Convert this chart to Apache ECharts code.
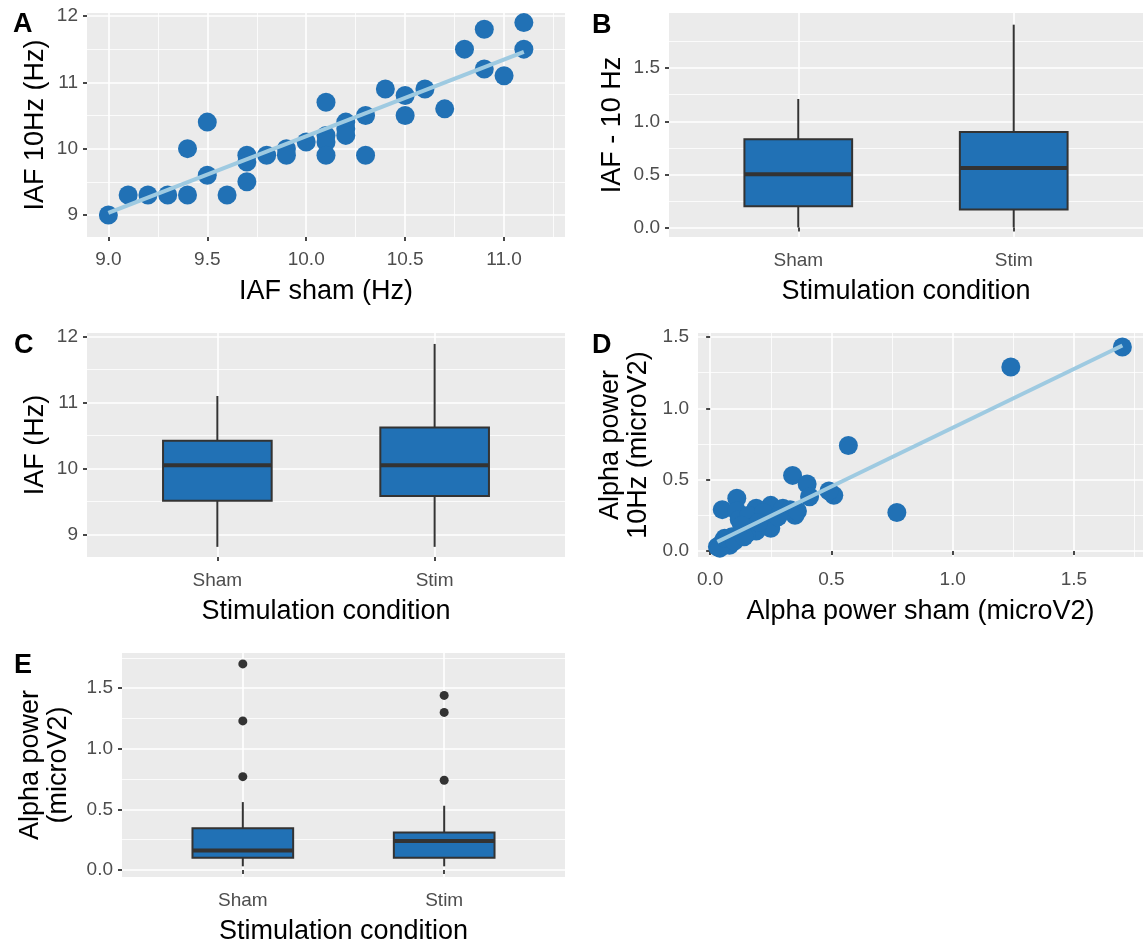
<!DOCTYPE html>
<html>
<head>
<meta charset="utf-8">
<title>IAF and alpha power, sham vs stim</title>
<script src="https://cdn.jsdelivr.net/npm/echarts@6.0.0/dist/echarts.min.js"></script>
<style>
  html, body { margin: 0; padding: 0; background: #fff; }
  #chart { width: 1143px; height: 943px; }
</style>
</head>
<body>
<div id="chart"></div>
<script>
// ---- values ----
var conditions = ['Sham', 'Stim'];

// A: IAF sham vs IAF under 10 Hz stimulation, one point per subject
var iafSham = [9.0, 9.1, 9.2, 9.3, 9.4, 9.4, 9.5, 9.5, 9.6, 9.7, 9.7, 9.7, 9.8, 9.9, 9.9, 10.0,
  10.1, 10.1, 10.1, 10.1, 10.2, 10.2, 10.2, 10.3, 10.3, 10.4, 10.5, 10.5, 10.6, 10.7, 10.8,
  10.9, 10.9, 11.0, 11.1, 11.1];
var iaf10Hz = [9.0, 9.3, 9.3, 9.3, 9.3, 10.0, 10.4, 9.6, 9.3, 9.9, 9.8, 9.5, 9.9, 10.0, 9.9, 10.1,
  10.7, 10.2, 10.1, 9.9, 10.4, 10.3, 10.2, 10.5, 9.9, 10.9, 10.8, 10.5, 10.9, 10.6, 11.5,
  11.8, 11.2, 11.1, 11.9, 11.5];
var iafFitX = [9.0, 11.1];
var iafFitY = [9.03, 11.46];

// B: IAF - 10 Hz, box stats [lower whisker, q1, median, q3, upper whisker]
var diffSham = [0.0, 0.2, 0.5, 0.83, 1.21];
var diffStim = [0.0, 0.17, 0.56, 0.9, 1.91];

// C: IAF (Hz)
var iafBoxSham = [8.81, 9.51, 10.05, 10.42, 11.1];
var iafBoxStim = [8.81, 9.58, 10.05, 10.62, 11.89];

// D: alpha power sham vs 10 Hz
var alphaSham = [1.70, 1.24, 0.57, 0.77, 0.51, 0.49, 0.34, 0.40, 0.41, 0.35, 0.25, 0.25, 0.30,
  0.33, 0.11, 0.05, 0.11, 0.19, 0.12, 0.16, 0.19, 0.15, 0.09, 0.05, 0.03, 0.08, 0.04, 0.22,
  0.28, 0.13, 0.06, 0.10, 0.14, 0.20, 0.36];
var alpha10Hz = [1.43, 1.29, 0.74, 0.27, 0.39, 0.42, 0.53, 0.47, 0.38, 0.25, 0.16, 0.32, 0.30,
  0.29, 0.37, 0.29, 0.28, 0.30, 0.22, 0.25, 0.14, 0.12, 0.10, 0.06, 0.03, 0.04, 0.02, 0.27,
  0.24, 0.18, 0.09, 0.07, 0.10, 0.20, 0.28];
var alphaFitX = [0.03, 1.70];
var alphaFitY = [0.065, 1.44];

// E: alpha power box stats and outliers
var alphaBoxSham = [0.03, 0.1, 0.16, 0.345, 0.56];
var alphaBoxStim = [0.03, 0.1, 0.24, 0.31, 0.53];
var outlierSham = [0.77, 1.23, 1.70];
var outlierStim = [0.74, 1.30, 1.44];

// tick positions
var iafTicks = [9, 10, 11, 12];
var iafMinor = [9.5, 10.5, 11.5];
var iafXTicks = [9.0, 9.5, 10.0, 10.5, 11.0];
var iafXMinor = [9.25, 9.75, 10.25, 10.75, 11.25];
var powerTicks = [0.0, 0.5, 1.0, 1.5];
var powerMinor = [0.25, 0.75, 1.25, 1.75];
var condTicks = [1, 2];

var FONT = '"Liberation Sans", Arial, sans-serif';
var BLUE = '#2171b5';
var FIT = '#9ecae1';

function fmt1(v) { return v.toFixed(1); }
function fmt0(v) { return String(Math.round(v)); }
function fmtCond(v) { return conditions[Math.round(v) - 1]; }

function majorAxis(grid, min, max, ticks, formatter, name, gap, labelGap) {
  return {
    type: 'value', gridIndex: grid, min: min, max: max,
    axisLine: { show: false },
    axisTick: { show: true, customValues: ticks, length: 4, lineStyle: { color: '#333', width: 1.8 } },
    axisLabel: { customValues: ticks, formatter: formatter, color: '#4d4d4d', fontSize: 19, fontFamily: FONT, margin: labelGap },
    splitLine: { show: true, lineStyle: { color: '#fff', width: 1.6 } },
    name: name, nameLocation: 'middle', nameGap: gap,
    nameTextStyle: { color: '#000', fontSize: 27, fontFamily: FONT, lineHeight: 28 }
  };
}
function minorAxis(grid, min, max, ticks) {
  return {
    type: 'value', gridIndex: grid, min: min, max: max,
    axisLine: { show: false },
    axisTick: { show: false, customValues: ticks },
    axisLabel: { show: false, customValues: ticks },
    splitLine: { show: true, lineStyle: { color: '#fff', width: 0.8 } }
  };
}
function pairs(xs, ys) {
  return xs.map(function (x, i) { return [x, ys[i]]; });
}
function boxSeries(xi, yi, boxes) {
  return {
    type: 'custom', xAxisIndex: xi, yAxisIndex: yi,
    data: boxes.map(function (b, i) { return [i + 1].concat(b); }),
    encode: { x: 0, y: [1, 2, 3, 4, 5] },
    renderItem: function (params, api) {
      var x = api.value(0);
      var half = api.size([0.5, 0])[0] / 2;
      var lo = api.coord([x, api.value(1)]);
      var q1 = api.coord([x, api.value(2)]);
      var med = api.coord([x, api.value(3)]);
      var q3 = api.coord([x, api.value(4)]);
      var hi = api.coord([x, api.value(5)]);
      var ln = { stroke: '#333', lineWidth: 2 };
      return {
        type: 'group', children: [
          { type: 'line', shape: { x1: lo[0], y1: lo[1], x2: q1[0], y2: q1[1] }, style: ln },
          { type: 'line', shape: { x1: q3[0], y1: q3[1], x2: hi[0], y2: hi[1] }, style: ln },
          { type: 'rect', shape: { x: q3[0] - half, y: q3[1], width: 2 * half, height: q1[1] - q3[1] },
            style: { fill: BLUE, stroke: '#333', lineWidth: 2 } },
          { type: 'line', shape: { x1: med[0] - half, y1: med[1], x2: med[0] + half, y2: med[1] },
            style: { stroke: '#333', lineWidth: 4 } }
        ]
      };
    }
  };
}
function letter(t, left, top) {
  return { text: t, left: left, top: top, padding: 0,
    textStyle: { fontSize: 27, fontWeight: 'bold', color: '#000', fontFamily: FONT } };
}
function panel(left, top, width, height) {
  // outerBoundsMode 'none': keep the panel size fixed even when names reach the page edge
  return { left: left, top: top, width: width, height: height, show: true,
    backgroundColor: '#ebebeb', borderWidth: 0, containLabel: false, outerBoundsMode: 'none' };
}

var chart = echarts.init(document.getElementById('chart'), null, { renderer: 'canvas' });

var option = {
  animation: false,
  backgroundColor: '#fff',
  title: [letter('A', 13, 11), letter('B', 592, 12), letter('C', 14, 332), letter('D', 592, 332), letter('E', 14, 652)],
  grid: [
    panel(87, 13, 478, 224),    // A
    panel(669, 13, 474, 224),   // B
    panel(87, 333, 478, 224),   // C
    panel(698, 333, 445, 224),  // D
    panel(122, 653, 443, 224)   // E
  ],
  xAxis: [
    majorAxis(0, 8.892, 11.308, iafXTicks, fmt1, 'IAF sham (Hz)', 41, 13),      // 0
    minorAxis(0, 8.892, 11.308, iafXMinor),                                    // 1
    majorAxis(1, 0.4, 2.6, condTicks, fmtCond, 'Stimulation condition', 41, 14), // 2
    majorAxis(2, 0.4, 2.6, condTicks, fmtCond, 'Stimulation condition', 41, 14), // 3
    majorAxis(3, -0.05, 1.785, powerTicks, fmt1, 'Alpha power sham (microV2)', 41, 13), // 4
    minorAxis(3, -0.05, 1.785, powerMinor),                                    // 5
    majorAxis(4, 0.4, 2.6, condTicks, fmtCond, 'Stimulation condition', 41, 14)  // 6
  ],
  yAxis: [
    majorAxis(0, 8.668, 12.045, iafTicks, fmt0, 'IAF 10Hz (Hz)', 37, 9),       // 0
    minorAxis(0, 8.668, 12.045, iafMinor),                                     // 1
    majorAxis(1, -0.09, 2.02, powerTicks, fmt1, 'IAF - 10 Hz', 42, 9),          // 2
    minorAxis(1, -0.09, 2.02, powerMinor),                                     // 3
    majorAxis(2, 8.656, 12.056, iafTicks, fmt0, 'IAF (Hz)', 37, 9),             // 4
    minorAxis(2, 8.656, 12.056, iafMinor),                                     // 5
    majorAxis(3, -0.042, 1.528, powerTicks, fmt1, 'Alpha power\n10Hz (microV2)', 45, 9), // 6
    minorAxis(3, -0.042, 1.528, powerMinor),                                   // 7
    majorAxis(4, -0.058, 1.79, powerTicks, fmt1, 'Alpha power\n(microV2)', 49, 9), // 8
    minorAxis(4, -0.058, 1.79, powerMinor)                                     // 9
  ],
  series: [
    { type: 'scatter', xAxisIndex: 0, yAxisIndex: 0, data: pairs(iafSham, iaf10Hz),
      symbolSize: 19, itemStyle: { color: BLUE, opacity: 1 }, z: 2 },
    { type: 'line', xAxisIndex: 0, yAxisIndex: 0, data: pairs(iafFitX, iafFitY),
      symbol: 'none', lineStyle: { color: FIT, width: 4 }, z: 3 },
    boxSeries(2, 2, [diffSham, diffStim]),
    boxSeries(3, 4, [iafBoxSham, iafBoxStim]),
    { type: 'scatter', xAxisIndex: 4, yAxisIndex: 6, data: pairs(alphaSham, alpha10Hz),
      symbolSize: 19, itemStyle: { color: BLUE, opacity: 1 }, z: 2 },
    { type: 'line', xAxisIndex: 4, yAxisIndex: 6, data: pairs(alphaFitX, alphaFitY),
      symbol: 'none', lineStyle: { color: FIT, width: 4 }, z: 3 },
    boxSeries(6, 8, [alphaBoxSham, alphaBoxStim]),
    { type: 'scatter', xAxisIndex: 6, yAxisIndex: 8,
      data: outlierSham.map(function (v) { return [1, v]; }).concat(outlierStim.map(function (v) { return [2, v]; })),
      symbolSize: 9, itemStyle: { color: '#333', opacity: 1 }, z: 3 }
  ]
};

chart.setOption(option);
</script>
</body>
</html>
